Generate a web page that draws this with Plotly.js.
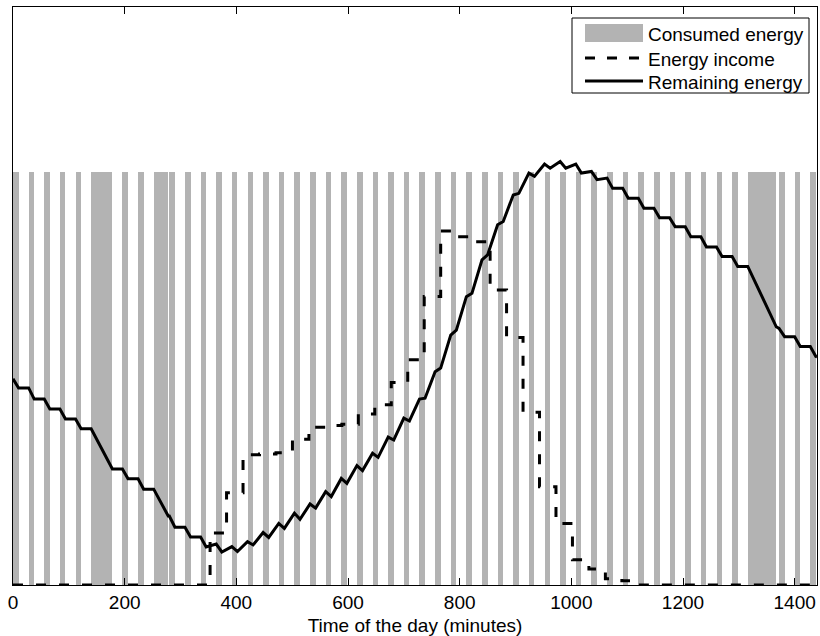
<!DOCTYPE html>
<html>
<head>
<meta charset="utf-8">
<script src="https://cdn.plot.ly/plotly-3.0.1.min.js"></script>
<style>html,body{margin:0;padding:0;background:#fff;}#chart{width:820px;height:636px;}</style>
</head>
<body>
<div id="chart"></div>
<script>
// Consumption intervals (start minute, duration in minutes)
var consStart = [0,28,56,84,112,140,168,196,224,252,280,308,336,364,392,420,448,476,504,532,560,588,616,644,672,700,728,756,784,812,840,868,896,924,952,980,1008,1036,1064,1092,1120,1148,1176,1204,1232,1260,1288,1316,1372,1400,1428];
var consDur   = [10,10,10,10,10,28,10,10,10,26,10,10,10,10,10,10,10,10,10,10,10,10,10,10,10,10,10,10,10,10,10,10,10,10,10,10,10,10,10,10,10,10,10,10,10,10,10,51,10,10,10];
var consLevel = 100;

// Energy income (step function: value from each start time)
var incT = [0,353,382.5,412,441.5,471,500.5,530,559.5,589,618.5,648,677.5,707,736.5,766,795.5,825,854.5,884,913.5,943,972.5,1002,1031.5,1061,1090.5,1120,1440];
var incE = [0,12.6,22.3,31.5,31.7,32.0,35.3,38.2,38.6,38.9,41.4,43.6,49.0,54.5,69.8,85.7,84.3,83.1,71.4,59.9,41.8,23.8,14.9,6.1,3.9,1.5,1.0,0,0];

// Remaining energy
var remT = [0,10,28,38,56,66,84,94,112,122,140,178,196,206,224,234,252,278,280,290,308,318,336,346,364,374,392,402,420,430,448,458,476,486,504,514,532,542,560,570,588,598,616,626,644,654,672,682,700,710,728,738,756,766,784,794,812,822,840,850,868,878,896,906,924,934,952,962,980,990,1008,1018,1036,1046,1064,1074,1092,1102,1120,1130,1148,1158,1176,1186,1204,1214,1232,1242,1260,1270,1288,1298,1316,1367,1372,1382,1400,1410,1428,1438,1440];
var remE = [49.9,47.7,47.7,45.0,45.0,42.6,42.6,40.2,40.2,37.8,37.8,28.1,28.1,25.7,25.7,23.2,23.2,16.7,16.7,14.0,14.0,11.6,11.6,9.2,9.9,8.0,9.3,8.1,10.5,9.7,12.7,11.5,14.9,13.7,17.4,15.9,19.6,18.6,22.6,21.4,25.8,24.6,28.9,27.7,31.9,30.9,35.8,35.1,40.4,39.7,45.0,45.2,51.6,52.5,60.5,61.7,69.8,70.6,78.7,79.9,87.2,88.0,94.4,94.8,99.7,98.9,101.9,100.9,102.5,100.9,101.9,99.7,100.1,98.1,98.5,96.0,96.0,93.6,93.6,91.2,91.2,88.9,88.9,86.7,86.7,84.3,84.3,81.8,81.8,79.5,79.5,77.1,77.1,62.5,62.1,60.1,60.1,57.7,57.7,55.3,55.2];

var xTicks = [0,200,400,600,800,1000,1200,1400];
var legendLabels = ['Consumed energy','Energy income','Remaining energy'];

var GRAY = '#b3b3b3';
var FONT = 'Liberation Sans, Arial, Helvetica, sans-serif';
var FS = 19;

var barX = consStart.map(function(s,i){return s + consDur[i]/2;});
var barY = consStart.map(function(){return consLevel;});

var traces = [
  {type:'bar', x:barX, y:barY, width:consDur, marker:{color:GRAY, line:{width:0}}, name:legendLabels[0], hoverinfo:'skip'},
  {type:'scatter', mode:'lines', x:incT, y:incE, line:{color:'black', width:3, dash:'10px,13px', shape:'hv'}, name:legendLabels[1]},
  {type:'scatter', mode:'lines', x:remT, y:remE, line:{color:'black', width:3}, name:legendLabels[2]}
];

// legend drawn manually (pixel positions -> paper coords)
var L=13, R=817, T=7, B=585;
function px(x){return (x-L)/(R-L);}
function py(y){return (B-y)/(B-T);}

var shapes = [
  {type:'rect', xref:'paper', yref:'paper', x0:px(572), x1:px(809), y0:py(18), y1:py(93), fillcolor:'white', line:{color:'black', width:1}},
  {type:'rect', xref:'paper', yref:'paper', x0:px(585), x1:px(643), y0:py(24), y1:py(42), fillcolor:GRAY, line:{width:0}},
  {type:'line', xref:'paper', yref:'paper', x0:px(585), x1:px(643), y0:py(58), y1:py(58), line:{color:'black', width:3, dash:'10px,12px'}},
  {type:'line', xref:'paper', yref:'paper', x0:px(585), x1:px(643), y0:py(81), y1:py(81), line:{color:'black', width:3}}
];
var legY = [35, 59, 82];
var annotations = legendLabels.map(function(t,i){
  return {xref:'paper', yref:'paper', x:px(646), y:py(legY[i]), xanchor:'left', yanchor:'middle', text:t, showarrow:false, font:{family:FONT, size:FS, color:'black'}};
});

var layout = {
  width:820, height:636,
  margin:{l:13, r:3, t:7, b:51, pad:0},
  paper_bgcolor:'white', plot_bgcolor:'white',
  showlegend:false,
  bargap:0,
  font:{family:FONT, size:FS, color:'black'},
  xaxis:{range:[0,1440], tickvals:xTicks, ticktext:xTicks.map(String), ticks:'inside', ticklen:7, tickwidth:1, tickcolor:'black',
         showline:true, linecolor:'black', linewidth:1, mirror:'ticks', showgrid:false, zeroline:false,
         tickfont:{family:FONT, size:FS},
         title:{text:'Time of the day (minutes)', font:{family:FONT, size:FS}, standoff:6}},
  yaxis:{range:[0,139.9], showticklabels:false, ticks:'', showline:true, linecolor:'black', linewidth:1, mirror:true,
         showgrid:false, zeroline:false, layer:'below traces'},
  shapes:shapes,
  annotations:annotations
};

Plotly.newPlot('chart', traces, layout, {displayModeBar:false, staticPlot:true});
</script>
</body>
</html>
